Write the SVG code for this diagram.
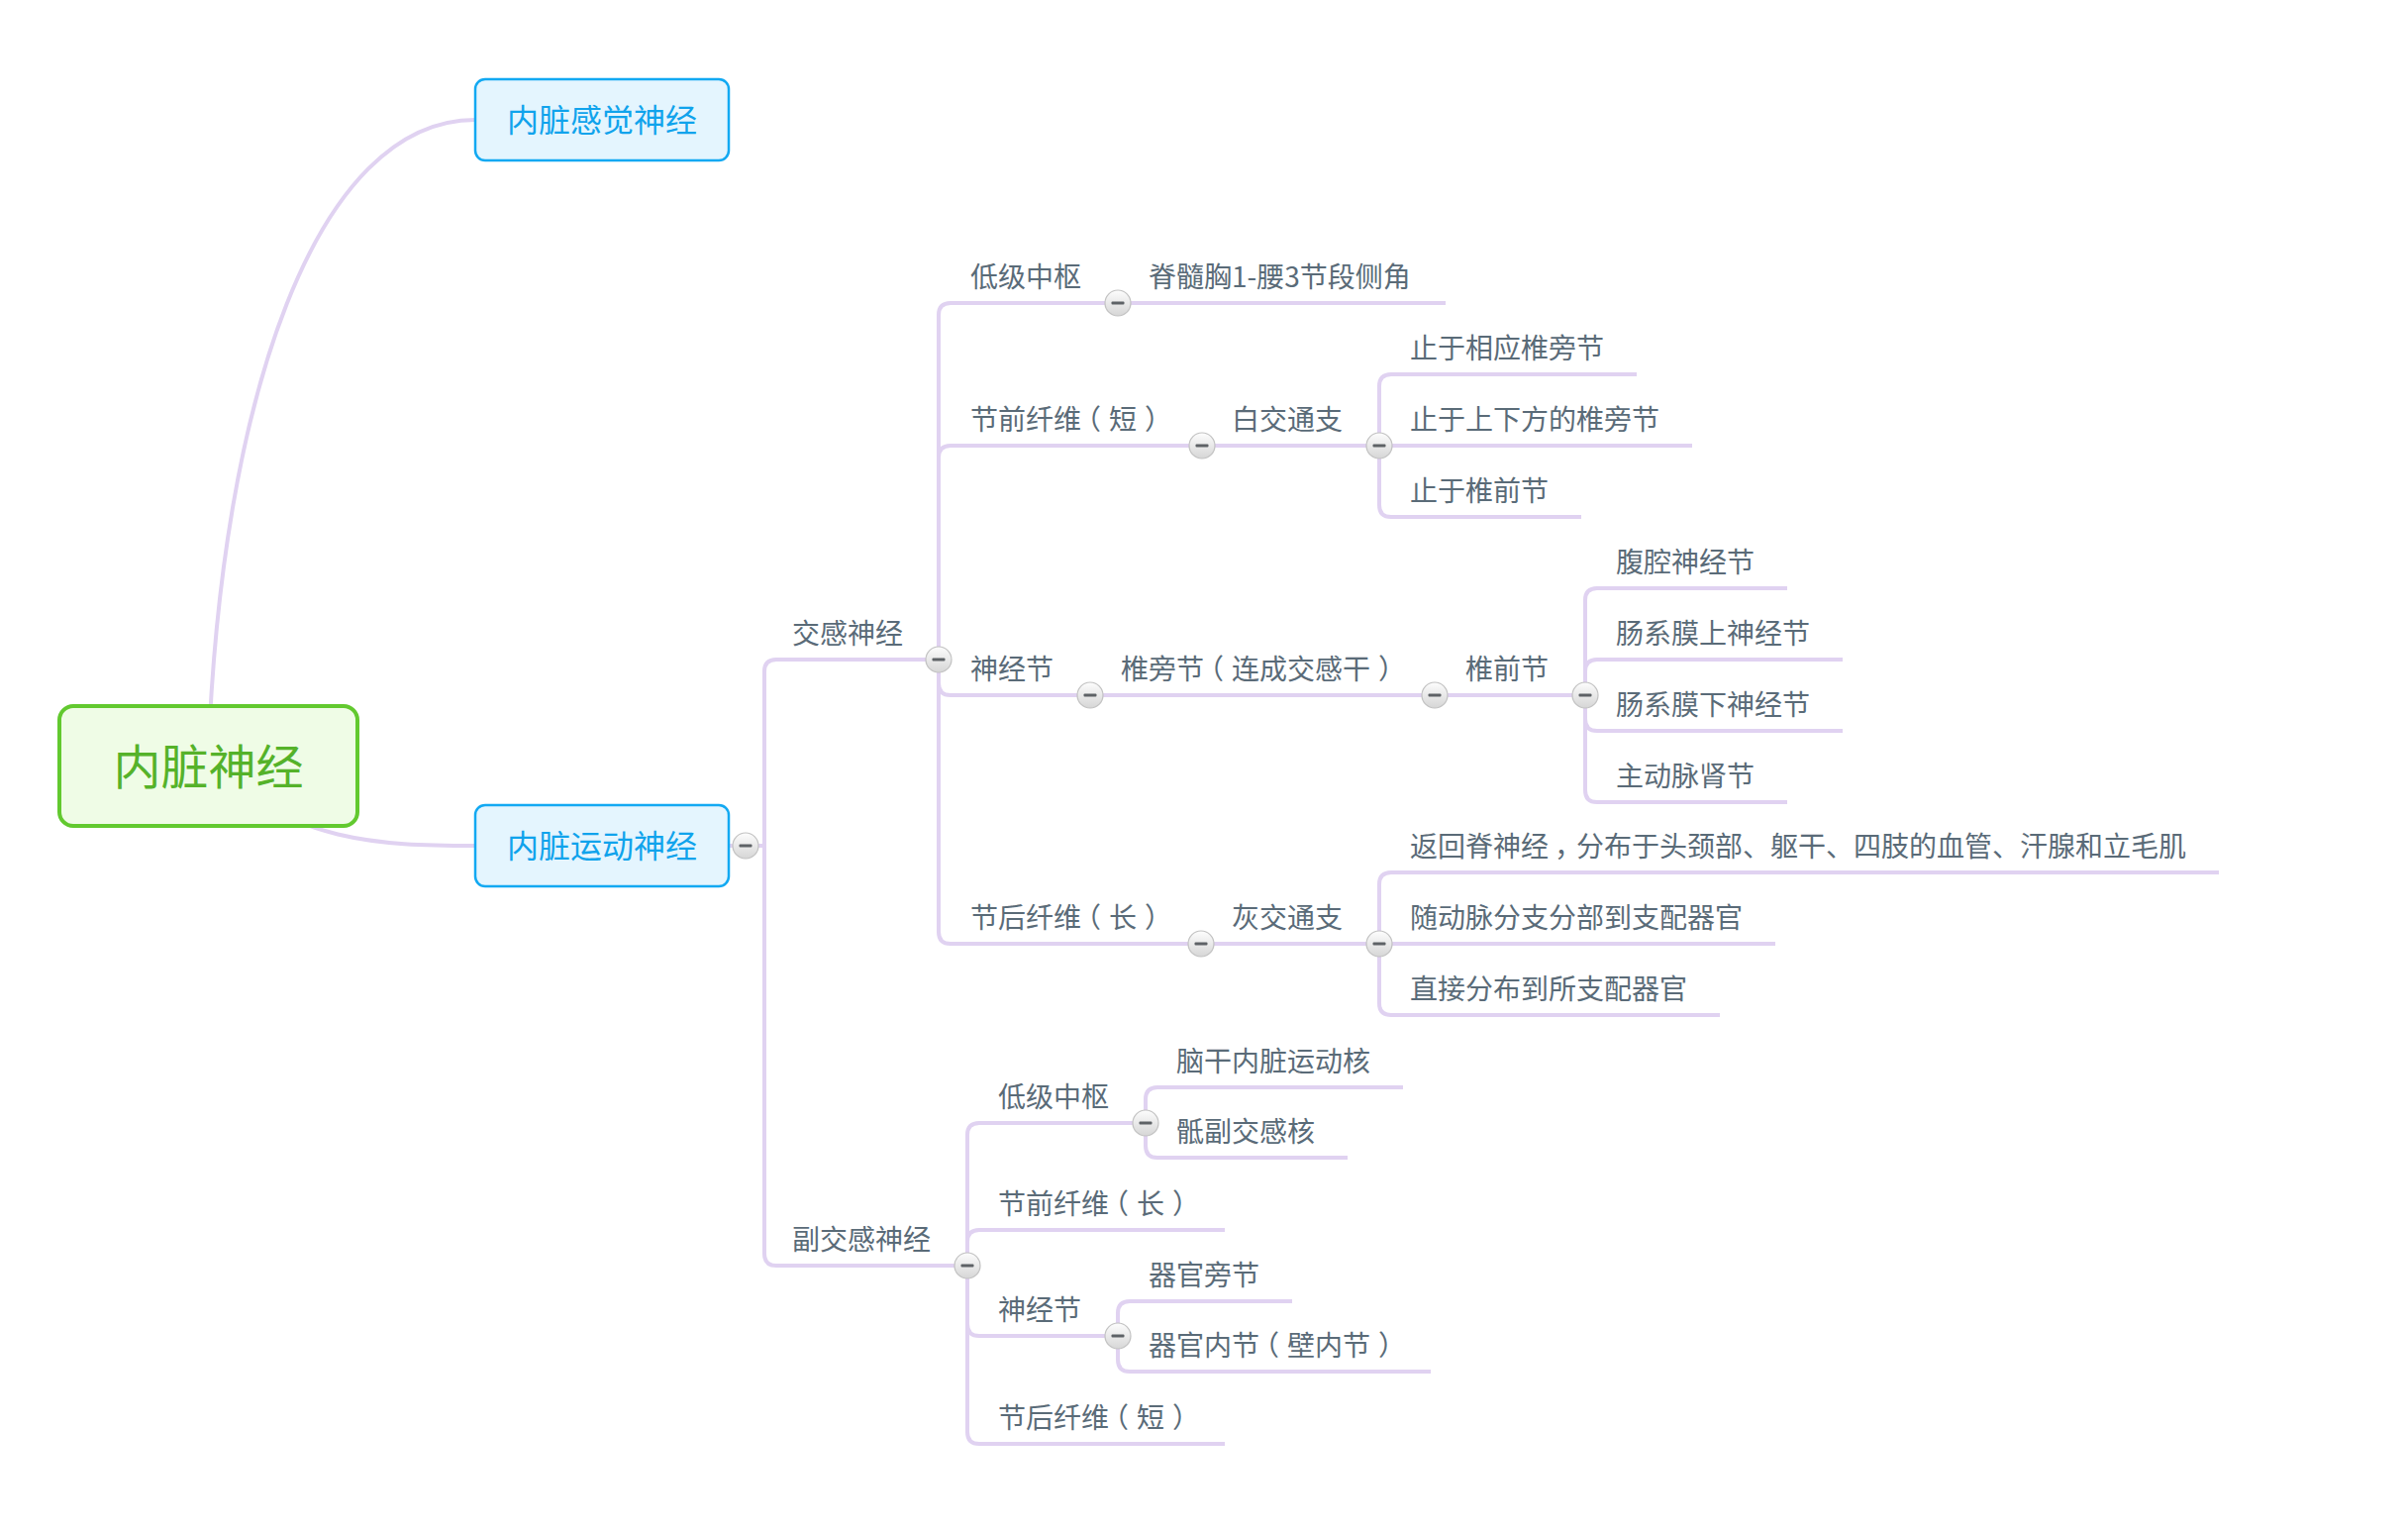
<svg xmlns="http://www.w3.org/2000/svg" xmlns:xlink="http://www.w3.org/1999/xlink" width="2432" height="1546" viewBox="0 0 2432 1546">
<style>
.t{font-family:"Noto Sans CJK SC","Noto Sans",sans-serif;font-size:28px;fill:#5A6B78}
.ln{fill:none;stroke:#E0D2F1;stroke-width:4}
.root-box{fill:#EFFCE6;stroke:#62C92F;stroke-width:4}
.root-t{font-family:"Noto Sans CJK SC","Noto Sans",sans-serif;font-size:48px;fill:#55B22A}
.main-box{fill:#E4F5FE;stroke:#12A9F2;stroke-width:2.5}
.main-t{font-family:"Noto Sans CJK SC","Noto Sans",sans-serif;font-size:32px;fill:#10A3EC}
</style>
<defs>
<linearGradient id="btnGrad" x1="0" y1="0" x2="0" y2="1">
<stop offset="0" stop-color="#FDFDFD"/>
<stop offset="1" stop-color="#D6D6D6"/>
</linearGradient>
<g id="btn">
<circle cx="0" cy="0" r="13" fill="url(#btnGrad)" stroke="#C2C2C2" stroke-width="1.2"/>
<rect x="-6.5" y="-1.5" width="13" height="3" rx="1" fill="#5E6266"/>
</g>
</defs>
<rect width="2432" height="1546" fill="#FFFFFF"/>
<g id="connectors">
<path class="ln" d="M210,774 C222,400 320,121 480,121"/>
<path class="ln" d="M210,774 C300,850 380,854 480,854"/>
<path class="ln" d="M736,854 H772"/>
<path class="ln" d="M772,854 V678 Q772,666 784,666 H948"/>
<path class="ln" d="M772,854 V1266 Q772,1278 784,1278 H977"/>
<path class="ln" d="M948,666 V318 Q948,306 960,306 H1129"/>
<path class="ln" d="M1129,306 H1460"/>
<path class="ln" d="M948,666 V462 Q948,450 960,450 H1214"/>
<path class="ln" d="M1214,450 H1393"/>
<path class="ln" d="M1393,450 V390 Q1393,378 1405,378 H1653"/>
<path class="ln" d="M1393,450 H1709"/>
<path class="ln" d="M1393,450 V510 Q1393,522 1405,522 H1597"/>
<path class="ln" d="M948,666 V690 Q948,702 960,702 H1101"/>
<path class="ln" d="M1101,702 H1449"/>
<path class="ln" d="M1449,702 H1601"/>
<path class="ln" d="M1601,702 V606 Q1601,594 1613,594 H1805"/>
<path class="ln" d="M1601,702 V678 Q1601,666 1613,666 H1861"/>
<path class="ln" d="M1601,702 V726 Q1601,738 1613,738 H1861"/>
<path class="ln" d="M1601,702 V798 Q1601,810 1613,810 H1805"/>
<path class="ln" d="M948,666 V941 Q948,953 960,953 H1213"/>
<path class="ln" d="M1213,953 H1393"/>
<path class="ln" d="M1393,953 V893 Q1393,881 1405,881 H2241"/>
<path class="ln" d="M1393,953 H1793"/>
<path class="ln" d="M1393,953 V1013 Q1393,1025 1405,1025 H1737"/>
<path class="ln" d="M977,1278 V1146 Q977,1134 989,1134 H1157"/>
<path class="ln" d="M1157,1134 V1110 Q1157,1098 1169,1098 H1417"/>
<path class="ln" d="M1157,1134 V1157 Q1157,1169 1169,1169 H1361"/>
<path class="ln" d="M977,1278 V1254 Q977,1242 989,1242 H1237"/>
<path class="ln" d="M977,1278 V1337 Q977,1349 989,1349 H1129"/>
<path class="ln" d="M1129,1349 V1326 Q1129,1314 1141,1314 H1305"/>
<path class="ln" d="M1129,1349 V1373 Q1129,1385 1141,1385 H1445"/>
<path class="ln" d="M977,1278 V1446 Q977,1458 989,1458 H1237"/>
</g>
<g id="node-root">
<rect class="root-box" x="60" y="713" width="301" height="121" rx="14"/>
<text class="root-t" x="210.5" y="792" text-anchor="middle">内脏神经</text>
</g>
<g id="node-sensory">
<rect class="main-box" x="480" y="80" width="256" height="82" rx="10"/>
<text class="main-t" x="608" y="133" text-anchor="middle">内脏感觉神经</text>
</g>
<g id="node-motor">
<rect class="main-box" x="480" y="813" width="256" height="82" rx="10"/>
<text class="main-t" x="608" y="866" text-anchor="middle">内脏运动神经</text>
<use href="#btn" x="753" y="854"/>
</g>
<g id="node-sympathetic">
<text class="t" x="800" y="650">交感神经</text>
<use href="#btn" x="948" y="666"/>
</g>
<g id="node-sym-center">
<text class="t" x="980" y="290">低级中枢</text>
<use href="#btn" x="1129" y="306"/>
</g>
<g id="node-sym-center-spinal">
<text class="t" x="1160" y="290">脊髓胸1-腰3节段侧角</text>
</g>
<g id="node-sym-pre">
<text class="t" x="980 1008 1036 1064 1084 1120 1156" y="434">节前纤维（短）</text>
<use href="#btn" x="1214" y="450"/>
</g>
<g id="node-white-ramus">
<text class="t" x="1244" y="434">白交通支</text>
<use href="#btn" x="1393" y="450"/>
</g>
<g id="node-white-1"><text class="t" x="1424" y="362">止于相应椎旁节</text></g>
<g id="node-white-2"><text class="t" x="1424" y="434">止于上下方的椎旁节</text></g>
<g id="node-white-3"><text class="t" x="1424" y="506">止于椎前节</text></g>
<g id="node-sym-ganglion">
<text class="t" x="980" y="686">神经节</text>
<use href="#btn" x="1101" y="702"/>
</g>
<g id="node-paravertebral">
<text class="t" x="1132 1160 1188 1208 1244 1272 1300 1328 1356 1392" y="686">椎旁节（连成交感干）</text>
<use href="#btn" x="1449" y="702"/>
</g>
<g id="node-prevertebral">
<text class="t" x="1480" y="686">椎前节</text>
<use href="#btn" x="1601" y="702"/>
</g>
<g id="node-pre-1"><text class="t" x="1632" y="578">腹腔神经节</text></g>
<g id="node-pre-2"><text class="t" x="1632" y="650">肠系膜上神经节</text></g>
<g id="node-pre-3"><text class="t" x="1632" y="722">肠系膜下神经节</text></g>
<g id="node-pre-4"><text class="t" x="1632" y="794">主动脉肾节</text></g>
<g id="node-sym-post">
<text class="t" x="980 1008 1036 1064 1084 1120 1156" y="937">节后纤维（长）</text>
<use href="#btn" x="1213" y="953"/>
</g>
<g id="node-gray-ramus">
<text class="t" x="1244" y="937">灰交通支</text>
<use href="#btn" x="1393" y="953"/>
</g>
<g id="node-gray-1"><text class="t" x="1424 1452 1480 1508 1536 1570 1592" y="865">返回脊神经，分布于头颈部、躯干、四肢的血管、汗腺和立毛肌</text></g>
<g id="node-gray-2"><text class="t" x="1424" y="937">随动脉分支分部到支配器官</text></g>
<g id="node-gray-3"><text class="t" x="1424" y="1009">直接分布到所支配器官</text></g>
<g id="node-parasympathetic">
<text class="t" x="800" y="1262">副交感神经</text>
<use href="#btn" x="977" y="1278"/>
</g>
<g id="node-para-center">
<text class="t" x="1008" y="1118">低级中枢</text>
<use href="#btn" x="1157" y="1134"/>
</g>
<g id="node-para-center-1"><text class="t" x="1188" y="1082">脑干内脏运动核</text></g>
<g id="node-para-center-2"><text class="t" x="1188" y="1153">骶副交感核</text></g>
<g id="node-para-pre"><text class="t" x="1008 1036 1064 1092 1112 1148 1184" y="1226">节前纤维（长）</text></g>
<g id="node-para-ganglion">
<text class="t" x="1008" y="1333">神经节</text>
<use href="#btn" x="1129" y="1349"/>
</g>
<g id="node-para-ganglion-1"><text class="t" x="1160" y="1298">器官旁节</text></g>
<g id="node-para-ganglion-2"><text class="t" x="1160 1188 1216 1244 1264 1300 1328 1356 1392" y="1369">器官内节（壁内节）</text></g>
<g id="node-para-post"><text class="t" x="1008 1036 1064 1092 1112 1148 1184" y="1442">节后纤维（短）</text></g>
</svg>
